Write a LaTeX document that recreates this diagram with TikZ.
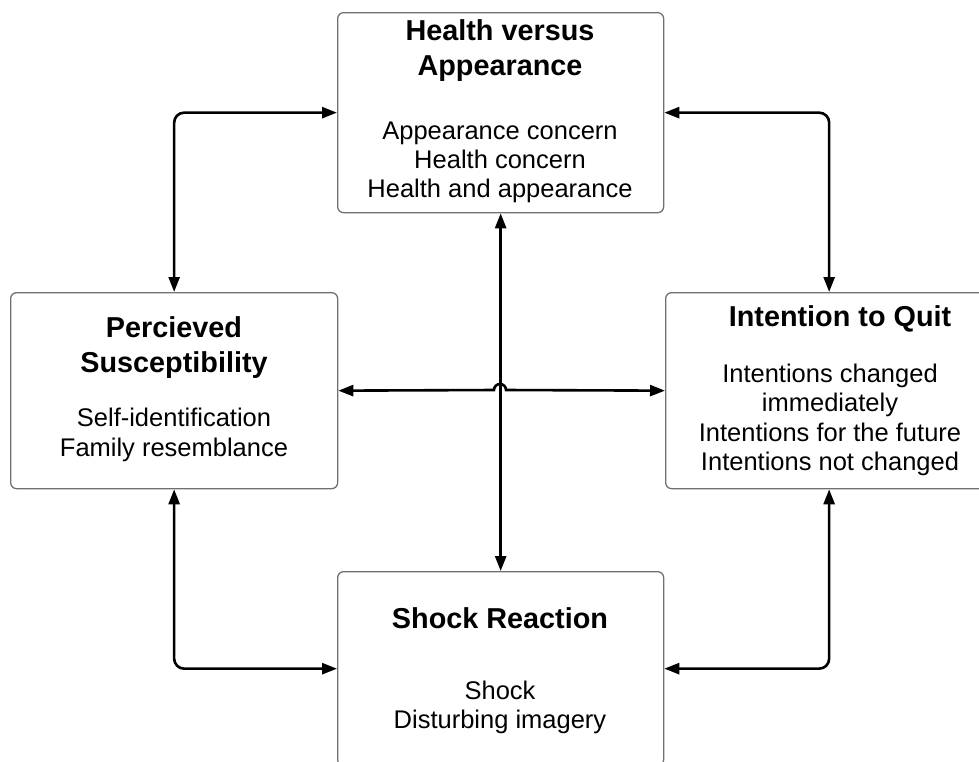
\documentclass[tikz,border=0pt]{standalone}
\usepackage{fontspec}
\setmainfont{Liberation Sans}
\usetikzlibrary{arrows.meta}
\begin{document}
\begin{tikzpicture}[x=1pt,y=-1pt,
  box/.style={draw=boxgray, line width=1.3pt, rounded corners=6pt, inner sep=0pt, anchor=north west},
  conn/.style={draw=black, line width=2.6pt, rounded corners=10pt, {Triangle[length=15pt,width=11pt]}-{Triangle[length=15pt,width=11pt]}},
  ttl/.style={font=\bfseries\fontsize{28.8}{33}\selectfont, anchor=base, inner sep=0pt},
  txt/.style={font=\fontsize{25.5}{30}\selectfont, anchor=base, inner sep=0pt}]
\definecolor{boxgray}{HTML}{707070}
\useasboundingbox (0,0) rectangle (979,761);
\clip (0,0) rectangle (979,761);
% boxes
\node[box, minimum width=326pt, minimum height=200pt] (top) at (337,12) {};
\node[box, minimum width=327pt, minimum height=196pt] (left) at (10,292) {};
\node[box, minimum width=327pt, minimum height=196pt] (right) at (665,292) {};
\node[box, minimum width=326pt, minimum height=194pt] (bottom) at (337,571) {};
% texts top
\node[ttl] (t1) at (500,40) {Health versus};
\node[ttl] (t2) at (500,75) {Appearance};
\node[txt] (t3) at (500,139) {Appearance concern};
\node[txt] (t4) at (500,168) {Health concern};
\node[txt] (t5) at (500,197) {Health and appearance};
% texts left
\node[ttl] (l1) at (174,337) {Percieved};
\node[ttl] (l2) at (174,372) {Susceptibility};
\node[txt] (l3) at (174,426) {Self-identification};
\node[txt] (l4) at (174,456) {Family resemblance};
% texts right
\node[ttl] (r1) at (840,326) {Intention to Quit};
\node[txt] (r2) at (830,382) {Intentions changed};
\node[txt] (r3) at (830,411) {immediately};
\node[txt] (r4) at (830,441) {Intentions for the future};
\node[txt] (r5) at (830,470) {Intentions not changed};
% texts bottom
\node[ttl] (b1) at (500,628) {Shock Reaction};
\node[txt] (b2) at (500,699) {Shock};
\node[txt] (b3) at (500,728) {Disturbing imagery};
% connectors
\draw[conn] (top.west) -| (left.north);
\draw[conn] (top.east) -| (right.north);
\draw[conn] (left.south) |- (bottom.west);
\draw[conn] (right.south) |- (bottom.east);
\draw[conn] (top.south) -- (bottom.north);
\coordinate (hopa) at (494,390);
\coordinate (hopb) at (506,390);
\draw[conn, rounded corners=0pt] (left.east) -- (hopa) arc[start angle=180, end angle=0, radius=6pt] -- (right.west);
\end{tikzpicture}
\end{document}
